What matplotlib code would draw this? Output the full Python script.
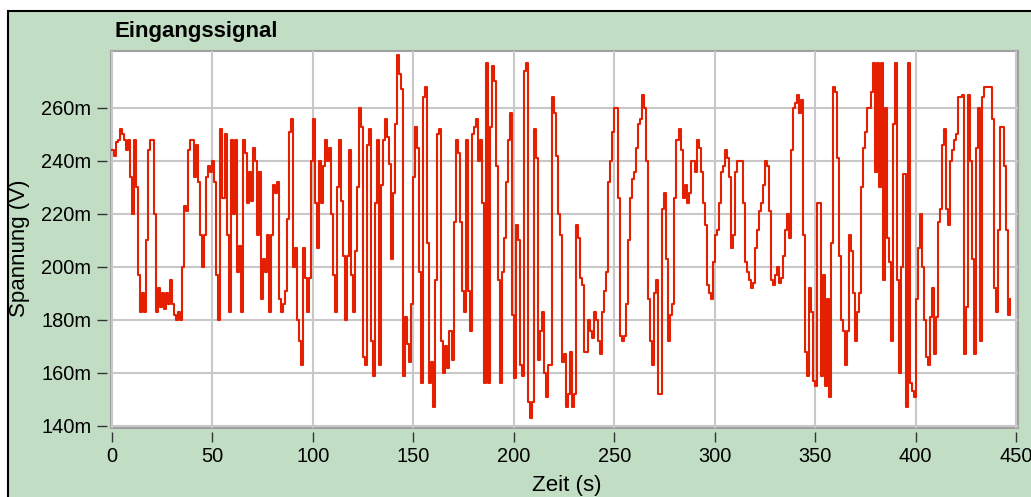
import numpy as np
import matplotlib
matplotlib.use("Agg")
import matplotlib.pyplot as plt
from matplotlib.patches import Rectangle
from matplotlib.ticker import FixedLocator, MultipleLocator, FuncFormatter

plt.rcParams['font.family'] = ['Liberation Sans', 'DejaVu Sans']

# Eingangssignal in mV, ein Wert pro Sekunde
sig_000_049 = [244, 242, 247, 248, 252, 250, 248, 244, 248, 234,
               220, 248, 230, 197, 183, 190, 183, 210, 244, 248,
               248, 220, 183, 192, 185, 190, 184, 190, 186, 195,
               186, 182, 180, 183, 180, 200, 223, 221, 244, 248,
               248, 234, 246, 232, 212, 200, 212, 234, 238, 236]
sig_050_099 = [240, 232, 197, 180, 252, 226, 250, 212, 183, 248,
               220, 248, 198, 208, 183, 248, 243, 224, 236, 225,
               245, 240, 212, 236, 188, 203, 198, 212, 183, 212,
               231, 228, 232, 188, 183, 186, 191, 218, 251, 256,
               200, 207, 180, 172, 163, 207, 196, 183, 196, 240]
sig_100_149 = [256, 224, 207, 240, 224, 238, 248, 240, 245, 220,
               197, 183, 230, 248, 225, 204, 180, 204, 244, 197,
               183, 206, 230, 260, 253, 166, 163, 246, 252, 172,
               159, 224, 248, 163, 231, 248, 256, 249, 239, 203,
               228, 254, 280, 273, 267, 159, 181, 171, 164, 186]
sig_150_199 = [234, 253, 245, 198, 156, 264, 268, 209, 156, 164,
               147, 195, 250, 252, 172, 160, 170, 162, 176, 165,
               217, 248, 243, 217, 191, 183, 248, 191, 176, 250,
               253, 256, 240, 248, 224, 156, 277, 156, 253, 276,
               270, 238, 195, 156, 198, 211, 232, 248, 258, 182]
sig_200_249 = [158, 216, 210, 163, 159, 274, 277, 149, 143, 149,
               252, 241, 165, 176, 183, 160, 151, 163, 163, 264,
               258, 242, 220, 212, 164, 167, 147, 152, 168, 147,
               152, 216, 211, 196, 193, 168, 168, 180, 176, 173,
               183, 180, 172, 167, 183, 191, 198, 232, 240, 251]
sig_250_299 = [260, 260, 226, 174, 172, 174, 186, 210, 226, 233,
               236, 245, 254, 256, 265, 260, 240, 188, 172, 163,
               190, 195, 152, 152, 222, 228, 203, 172, 182, 186,
               226, 248, 252, 244, 226, 231, 224, 228, 240, 240,
               236, 248, 245, 236, 224, 216, 193, 190, 188, 202]
sig_300_349 = [212, 214, 224, 236, 238, 244, 241, 234, 207, 212,
               236, 240, 240, 240, 224, 202, 198, 195, 192, 194,
               207, 214, 221, 224, 231, 240, 238, 221, 195, 193,
               197, 200, 194, 196, 204, 214, 220, 211, 244, 260,
               262, 265, 258, 263, 212, 168, 159, 192, 183, 157]
sig_350_399 = [155, 224, 224, 159, 197, 155, 188, 151, 209, 268,
               266, 241, 204, 180, 176, 163, 176, 212, 206, 190,
               172, 183, 190, 230, 245, 251, 260, 260, 266, 277,
               236, 277, 230, 277, 195, 260, 211, 202, 172, 254,
               277, 195, 160, 200, 235, 147, 277, 156, 153, 151]
sig_400_447 = [188, 207, 220, 200, 180, 166, 163, 181, 192, 167,
               181, 217, 222, 246, 252, 222, 216, 240, 244, 248,
               250, 264, 264, 265, 167, 185, 265, 240, 203, 167,
               245, 260, 172, 264, 268, 268, 268, 268, 256, 192,
               183, 214, 253, 253, 238, 214, 182, 188]

y_ticks = [140, 160, 180, 200, 220, 240, 260]

signal = np.array(sig_000_049 + sig_050_099 + sig_100_149 + sig_150_199 +
                  sig_200_249 + sig_250_299 + sig_300_349 + sig_350_399 +
                  sig_400_447, dtype=float)
t = np.arange(len(signal))

green = '#c1ddc3'
W, H = 1031, 497

fig = plt.figure(figsize=(W / 100, H / 100), dpi=100, facecolor='white')
# gruener Rahmen mit schwarzer Kante oben/links
fig.patches.append(Rectangle((8 / W, -0.1), 1.2, 1.1 - 11 / H, transform=fig.transFigure,
                             facecolor=green, edgecolor='black', lw=1.5, zorder=-5))

ax = fig.add_axes([111 / W, 1 - 428 / H, 907 / W, 377 / H])
ax.plot(t, signal, drawstyle='steps-post', color='#e42000', lw=1.5)

ax.set_xlim(-0.5, 451)
ax.set_ylim(139.2, 281.5)
ax.xaxis.set_major_locator(MultipleLocator(50))
ax.yaxis.set_major_locator(FixedLocator(y_ticks))
ax.yaxis.set_major_formatter(FuncFormatter(lambda v, p: '%dm' % v))

ax.set_facecolor('white')
ax.patch.set_edgecolor('#a0a0a0')
ax.patch.set_linewidth(1.5)
ax.set_axisbelow(True)
ax.grid(True, color='#c8c8c8', lw=1.5)

for s in ['top', 'right']:
    ax.spines[s].set_visible(False)
for s in ['left', 'bottom']:
    ax.spines[s].set_position(('outward', 3))
    ax.spines[s].set_visible(False)
ax.tick_params(direction='out', length=7, width=1, color='#333333', labelsize=14.4, pad=4)

fig.text(115 / W, 1 - 36.5 / H, 'Eingangssignal', fontsize=16, fontweight='bold', va='baseline')
fig.text(20 / W, 1 - 248 / H, 'Spannung (V)', fontsize=16, rotation=90, ha='center', va='center')
fig.text(567 / W, 1 - 485 / H, 'Zeit (s)', fontsize=16, ha='center', va='center')

fig.savefig('out.png', dpi=100, facecolor=fig.get_facecolor())
